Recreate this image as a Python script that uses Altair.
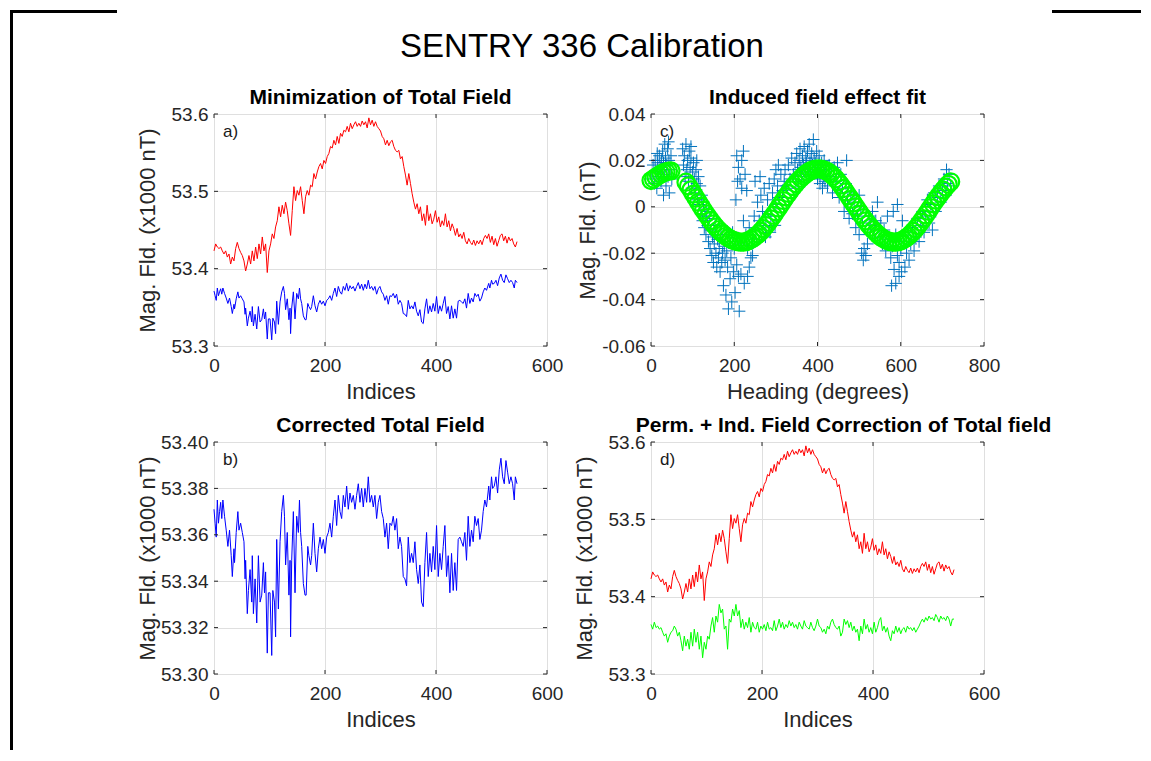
import altair as alt
import pandas as pd

FONT = "Liberation Sans"
TXT = "#262626"
GRID = "#dfdfdf"
W, H = 333, 232

# ---------------- data ----------------
# total field before correction (red), sample index step 3
RED_VALS = [
    53.423, 53.432, 53.428, 53.426, 53.428, 53.423, 53.419, 53.423, 53.415, 53.419,
    53.406, 53.415, 53.410, 53.426, 53.434, 53.426, 53.421, 53.417, 53.410, 53.397,
    53.406, 53.417, 53.406, 53.423, 53.410, 53.428, 53.413, 53.432, 53.419, 53.441,
    53.423, 53.432, 53.395, 53.423, 53.432, 53.445, 53.439, 53.454, 53.462, 53.480,
    53.467, 53.482, 53.471, 53.486, 53.475, 53.458, 53.443, 53.475, 53.506, 53.488,
    53.501, 53.495, 53.506, 53.488, 53.471, 53.493, 53.501, 53.495, 53.508, 53.506,
    53.523, 53.516, 53.525, 53.532, 53.536, 53.529, 53.540, 53.536, 53.545, 53.549,
    53.558, 53.556, 53.566, 53.560, 53.571, 53.562, 53.575, 53.571, 53.579, 53.577,
    53.584, 53.577, 53.588, 53.581, 53.586, 53.590, 53.584, 53.588, 53.584, 53.591,
    53.586, 53.590, 53.582, 53.595, 53.586, 53.592, 53.584, 53.590, 53.584, 53.581,
    53.578, 53.571, 53.568, 53.560, 53.566, 53.559, 53.564, 53.566, 53.558, 53.553,
    53.551, 53.553, 53.542, 53.545, 53.532, 53.521, 53.508, 53.523, 53.510, 53.497,
    53.486, 53.477, 53.484, 53.471, 53.480, 53.462, 53.471, 53.456, 53.482, 53.462,
    53.471, 53.458, 53.464, 53.475, 53.460, 53.467, 53.454, 53.462, 53.456, 53.471,
    53.454, 53.462, 53.449, 53.458, 53.452, 53.443, 53.452, 53.441, 53.445, 53.439,
    53.447, 53.436, 53.432, 53.439, 53.434, 53.431, 53.437, 53.430, 53.436, 53.432,
    53.437, 53.431, 53.439, 53.443, 53.439, 53.445, 53.434, 53.442, 53.431, 53.439,
    53.429, 53.436, 53.443, 53.445, 53.436, 53.442, 53.433, 53.441, 53.436, 53.439,
    53.432, 53.428, 53.435,
]
RED_IDX = list(range(0, 3 * len(RED_VALS), 3))

# minimised / corrected total field (blue)
BLUE_IDX = [0, 2, 4, 6, 8, 10, 12, 14, 16, 19, 22, 25, 28, 31, 33, 36, 37, 40, 43, 45,
            48, 51, 54, 56, 57, 60, 62, 65, 68, 69, 71, 74, 77, 80, 83, 86, 89, 91, 93, 96,
            98, 101, 104, 106, 109, 111, 113, 116, 119, 122, 125, 127, 129, 132, 135, 137,
            138, 140, 143, 146, 149, 152, 154, 156, 158, 161, 164, 166, 169, 171, 174, 176] \
    + list(range(179, 494, 3)) \
    + [495, 497, 500, 502, 505, 508, 511, 514, 517, 520, 523, 526, 529, 532, 535, 538, 541, 543, 546]
BLUE_VALS = [
    53.371, 53.365, 53.359, 53.375, 53.365, 53.370, 53.374, 53.367, 53.375, 53.368,
    53.362, 53.355, 53.362, 53.351, 53.342, 53.354, 53.348, 53.361, 53.370, 53.362,
    53.365, 53.361, 53.357, 53.341, 53.349, 53.326, 53.336, 53.345, 53.331, 53.351,
    53.326, 53.341, 53.322, 53.351, 53.331, 53.334, 53.348, 53.335, 53.344, 53.309,
    53.335, 53.335, 53.308, 53.336, 53.331, 53.316, 53.358, 53.328, 53.357, 53.370,
    53.377, 53.368, 53.347, 53.361, 53.334, 53.349, 53.316, 53.349, 53.370, 53.335,
    53.368, 53.361, 53.375, 53.361, 53.355, 53.339, 53.334, 53.334, 53.355, 53.351,
    53.347, 53.351, 53.365, 53.352, 53.344, 53.354, 53.359, 53.354, 53.358, 53.352,
    53.359, 53.361, 53.365, 53.359, 53.368, 53.375, 53.364, 53.377, 53.370, 53.367,
    53.377, 53.372, 53.381, 53.371, 53.378, 53.374, 53.377, 53.371, 53.377, 53.382,
    53.374, 53.380, 53.372, 53.380, 53.374, 53.385, 53.374, 53.377, 53.372, 53.377,
    53.367, 53.374, 53.377, 53.370, 53.367, 53.359, 53.365, 53.354, 53.365, 53.364,
    53.368, 53.362, 53.367, 53.354, 53.359, 53.355, 53.342, 53.341, 53.338, 53.359,
    53.348, 53.352, 53.348, 53.357, 53.345, 53.339, 53.347, 53.331, 53.329, 53.348,
    53.361, 53.342, 53.352, 53.344, 53.355, 53.345, 53.364, 53.342, 53.352, 53.345,
    53.355, 53.364, 53.342, 53.351, 53.335, 53.352, 53.336, 53.348, 53.336, 53.358,
    53.359, 53.357, 53.355, 53.361, 53.349, 53.368, 53.355, 53.362, 53.357, 53.368,
    53.364, 53.367, 53.358, 53.362, 53.370, 53.375, 53.372, 53.381, 53.375, 53.385,
    53.380, 53.381, 53.385, 53.378, 53.388, 53.393, 53.385, 53.382, 53.392, 53.387,
    53.382, 53.385, 53.382, 53.375, 53.385, 53.382,
]

# permanent + induced corrected field (green), sample index step 3
GREEN_VALS = [
    53.364, 53.358, 53.367, 53.360, 53.362, 53.358, 53.360, 53.354, 53.349, 53.352,
    53.341, 53.349, 53.354, 53.356, 53.362, 53.358, 53.349, 53.354, 53.343, 53.330,
    53.349, 53.336, 53.345, 53.332, 53.354, 53.336, 53.358, 53.341, 53.354, 53.332,
    53.349, 53.321, 53.341, 53.332, 53.349, 53.345, 53.362, 53.373, 53.354, 53.375,
    53.367, 53.390, 53.379, 53.384, 53.358, 53.362, 53.332, 53.371, 53.367, 53.384,
    53.375, 53.390, 53.375, 53.382, 53.360, 53.371, 53.358, 53.367, 53.360, 53.373,
    53.354, 53.367, 53.360, 53.358, 53.367, 53.354, 53.362, 53.358, 53.364, 53.356,
    53.367, 53.358, 53.360, 53.356, 53.369, 53.356, 53.362, 53.371, 53.360, 53.367,
    53.358, 53.364, 53.360, 53.369, 53.362, 53.367, 53.360, 53.364, 53.358, 53.367,
    53.362, 53.358, 53.369, 53.362, 53.360, 53.358, 53.367, 53.360, 53.356, 53.362,
    53.371, 53.362, 53.360, 53.354, 53.358, 53.352, 53.362, 53.358, 53.367, 53.371,
    53.364, 53.360, 53.358, 53.362, 53.349, 53.354, 53.371, 53.364, 53.369, 53.360,
    53.367, 53.356, 53.362, 53.354, 53.358, 53.343, 53.362, 53.352, 53.371, 53.358,
    53.364, 53.354, 53.360, 53.352, 53.367, 53.354, 53.360, 53.369, 53.373, 53.356,
    53.362, 53.354, 53.360, 53.349, 53.343, 53.356, 53.352, 53.362, 53.354, 53.360,
    53.352, 53.358, 53.360, 53.354, 53.362, 53.358, 53.360, 53.356, 53.360, 53.354,
    53.358, 53.362, 53.367, 53.371, 53.367, 53.373, 53.369, 53.375, 53.371, 53.373,
    53.369, 53.377, 53.373, 53.367, 53.375, 53.371, 53.373, 53.369, 53.375, 53.371,
    53.362, 53.371, 53.371,
]
GREEN_IDX = list(range(0, 3 * len(GREEN_VALS), 3))

# induced field residuals vs heading (blue crosses)
CROSSES = [
    (2, 0.012), (5, 0.018), (8, 0.010), (10, 0.020), (12, 0.015), (14, 0.008), (16, 0.019),
    (18, 0.013), (20, 0.022), (22, 0.017), (24, 0.011), (26, 0.016), (28, 0.024), (30, 0.019),
    (32, 0.014), (33, 0.027), (35, 0.021), (36, 0.009), (38, 0.018), (40, 0.025), (41, 0.013),
    (43, 0.020), (44, 0.006), (46, 0.016), (48, 0.022), (50, 0.012), (30, 0.005), (25, 0.020),
    (15, 0.023), (42, 0.028),
    (76, 0.025), (78, 0.018), (80, 0.022), (82, 0.013), (84, 0.027), (86, 0.016), (88, 0.020),
    (90, 0.011), (92, 0.024), (94, 0.017), (96, 0.021), (98, 0.008), (100, 0.015), (102, 0.019),
    (104, 0.012), (106, 0.006), (108, 0.016), (110, 0.010), (112, 0.003), (114, 0.013),
    (116, 0.001), (118, 0.009), (120, -0.003), (122, 0.005), (124, -0.006), (126, 0.002),
    (128, -0.009), (130, -0.004), (96, 0.026), (110, 0.020),
    (132, -0.012), (134, -0.002), (136, -0.008), (138, -0.015), (140, -0.005), (142, -0.018),
    (144, -0.010), (146, -0.021), (148, -0.013), (150, -0.024), (152, -0.016), (154, -0.008),
    (156, -0.020), (158, -0.026), (160, -0.014), (162, -0.022), (164, -0.018), (166, -0.028),
    (168, -0.012), (170, -0.024), (172, -0.020), (174, -0.034), (176, -0.017), (178, -0.023),
    (180, -0.038), (182, -0.019), (184, -0.026), (186, -0.044), (188, -0.015), (190, -0.031),
    (192, -0.022), (194, -0.041), (196, -0.011), (198, -0.028), (200, -0.018), (202, -0.037),
    (204, 0.003), (206, -0.025), (208, 0.011), (210, -0.030), (212, -0.045), (214, -0.016),
    (216, -0.029), (218, 0.008),
    (206, 0.022), (210, 0.017), (214, 0.012), (218, 0.020), (222, 0.024), (226, 0.014),
    (230, 0.007), (222, -0.006), (228, -0.012), (232, -0.018), (236, -0.009), (240, -0.022),
    (244, -0.014), (248, -0.004), (252, -0.010), (256, 0.002), (260, -0.006), (264, 0.005),
    (268, -0.002), (272, 0.008), (276, -0.008), (280, 0.003), (284, 0.010), (288, -0.004),
    (292, 0.006), (296, 0.012), (300, 0.001), (304, 0.009), (308, 0.004), (312, 0.014),
    (316, 0.007), (320, 0.011), (232, -0.030), (236, -0.026), (224, -0.033), (244, -0.021),
    (250, 0.011), (262, 0.013), (275, -0.013), (286, -0.011), (298, -0.008), (300, 0.016),
    (306, 0.018),
    (322, 0.016), (326, 0.009), (330, 0.018), (334, 0.012), (338, 0.021), (342, 0.014),
    (346, 0.019), (348, 0.008), (350, 0.023), (352, 0.016), (354, 0.011), (356, 0.020),
    (358, 0.025), (360, 0.017), (362, 0.013), (364, 0.022), (366, 0.018), (368, 0.026),
    (370, 0.015), (372, 0.021), (374, 0.019), (376, 0.024), (378, 0.016), (380, 0.027),
    (382, 0.020), (384, 0.014), (386, 0.023), (388, 0.018), (390, 0.029), (392, 0.021),
    (394, 0.015), (396, 0.019), (398, 0.024), (400, 0.012), (402, 0.017), (404, 0.022),
    (406, 0.010), (408, 0.015), (410, 0.019), (412, 0.008), (414, 0.013), (416, 0.020),
    (418, 0.011), (420, 0.016),
    (424, 0.009), (428, 0.018), (432, 0.013), (436, 0.006), (440, 0.017), (444, 0.011),
    (448, 0.019), (452, 0.004), (456, 0.014), (460, 0.008), (464, -0.002), (468, 0.010),
    (472, 0.003), (476, -0.005), (480, 0.006), (484, -0.003), (488, 0.002), (492, -0.009),
    (496, -0.004), (500, -0.012), (504, 0.000), (508, -0.007), (512, -0.018), (516, -0.021),
    (520, -0.016), (506, -0.020), (510, -0.023), (470, 0.020), (500, 0.005),
    (524, -0.004), (528, -0.008), (532, -0.002), (536, -0.010), (540, -0.006), (544, 0.002),
    (548, -0.013), (552, -0.007), (556, -0.016), (560, -0.010), (564, -0.019), (568, -0.004),
    (572, -0.014), (576, -0.022), (580, -0.017), (584, -0.027), (588, -0.012), (592, -0.021),
    (596, -0.030), (600, -0.018), (578, -0.034), (588, -0.033), (596, -0.024), (602, -0.028),
    (606, -0.015), (610, -0.026), (614, -0.020), (618, -0.011), (620, -0.023),
    (582, -0.002), (592, 0.001), (604, -0.006), (624, -0.016), (628, -0.009), (632, -0.019),
    (636, -0.013), (640, -0.005), (644, -0.015), (648, -0.008), (652, -0.002), (656, -0.011),
    (660, -0.004), (664, 0.003), (668, -0.007), (672, 0.001), (676, -0.010), (680, 0.006),
    (684, -0.002), (688, 0.004), (692, 0.009), (696, 0.002), (700, 0.007), (704, 0.012),
    (708, 0.005), (712, 0.010), (716, 0.014), (720, 0.009), (710, 0.016),
]

# induced field fit (green circles)
FIT_H = list(range(0, 49, 6)) + list(range(84, 721, 6))
FIT_V = [
    0.0113, 0.0120, 0.0128, 0.0135, 0.0142, 0.0147, 0.0151, 0.0154, 0.0155,
    0.0106, 0.0090, 0.0073, 0.0055, 0.0038, 0.0020, 0.0003, -0.0014, -0.0030, -0.0045,
    -0.0060, -0.0074, -0.0087, -0.0099, -0.0109, -0.0118, -0.0127, -0.0134, -0.0140, -0.0145,
    -0.0149, -0.0151, -0.0152, -0.0152, -0.0150, -0.0146, -0.0141, -0.0134, -0.0126, -0.0117,
    -0.0106, -0.0094, -0.0081, -0.0067, -0.0052, -0.0037, -0.0021, -0.0005, 0.0011, 0.0027,
    0.0043, 0.0058, 0.0073, 0.0087, 0.0100, 0.0112, 0.0123, 0.0133, 0.0142, 0.0150,
    0.0156, 0.0160, 0.0163, 0.0164, 0.0163, 0.0160, 0.0156, 0.0150, 0.0142, 0.0132,
    0.0121, 0.0108, 0.0094, 0.0079, 0.0064, 0.0048, 0.0032, 0.0016, 0.0000, -0.0016,
    -0.0032, -0.0047, -0.0061, -0.0075, -0.0088, -0.0100, -0.0111, -0.0121, -0.0130, -0.0137,
    -0.0143, -0.0147, -0.0150, -0.0152, -0.0152, -0.0150, -0.0147, -0.0142, -0.0135, -0.0127,
    -0.0117, -0.0106, -0.0094, -0.0081, -0.0066, -0.0051, -0.0035, -0.0019, -0.0003, 0.0013,
    0.0029, 0.0044, 0.0058, 0.0072, 0.0085, 0.0097, 0.0108,
]

IDX_TICKS = [0, 200, 400, 600]
HEAD_TICKS = [0, 200, 400, 600, 800]
Y_TICKS_A = [53.3, 53.4, 53.5, 53.6]
Y_TICKS_B = [53.3, 53.32, 53.34, 53.36, 53.38, 53.4]
Y_TICKS_C = [-0.06, -0.04, -0.02, 0.0, 0.02, 0.04]

SUPTITLE = "SENTRY 336 Calibration"
TITLES = ["Minimization of Total Field", "Induced field effect fit",
          "Corrected Total Field", "Perm. + Ind. Field Correction of Total field"]
LABELS = ["a)", "c)", "b)", "d)"]
XTITLES = ["Indices", "Heading (degrees)", "Indices", "Indices"]
YTITLES = ["Mag. Fld. (x1000 nT)", "Mag. Fld. (nT)", "Mag. Fld. (x1000 nT)", "Mag. Fld. (x1000 nT)"]


def df(xs, ys):
    return pd.DataFrame({"x": xs, "y": ys})


def text_layer(text, x, y, size, weight="normal", align="center", color="#000000"):
    return alt.Chart(pd.DataFrame({"t": [text]})).mark_text(
        align=align, baseline="middle", fontSize=size, font=FONT, fontWeight=weight, color=color
    ).encode(x=alt.value(x), y=alt.value(y), text="t:N")


def panel(layers, xdom, xticks, ydom, yticks, yfmt, title, xtitle, ytitle, label,
          title_dx=0, ytitle_x=-67, ylabel_expr=None, extra=()):
    xs = alt.Scale(domain=xdom, nice=False, zero=False)
    ys = alt.Scale(domain=ydom, nice=False, zero=False)
    xaxis = alt.Axis(values=xticks, title=xtitle, format="d", grid=True, gridColor=GRID,
                     tickSize=0, domain=False, labelPadding=10, titlePadding=6, labelFlush=False,
                     labelFontSize=19, titleFontSize=22, labelColor=TXT, titleColor=TXT,
                     titleFontWeight="normal", labelFont=FONT, titleFont=FONT)
    yargs = dict(values=yticks, title=ytitle, grid=True, gridColor=GRID, tickSize=0,
                 domain=False, labelPadding=6, labelFontSize=19, titleFontSize=22,
                 labelFlush=False, labelColor=TXT, titleColor=TXT, titleFontWeight="normal",
                 labelFont=FONT, titleFont=FONT, titleX=ytitle_x, titleY=H / 2,
                 titleBaseline="middle", titleAlign="center", titleAngle=270)
    if ylabel_expr:
        yargs["labelExpr"] = ylabel_expr
    else:
        yargs["format"] = yfmt
    yaxis = alt.Axis(**yargs)

    charts = []
    for i, chart_fn in enumerate(layers):
        c = chart_fn()
        if i == 0:
            c = c.encode(x=alt.X("x:Q", scale=xs, axis=xaxis), y=alt.Y("y:Q", scale=ys, axis=yaxis))
        else:
            c = c.encode(x=alt.X("x:Q", scale=xs), y=alt.Y("y:Q", scale=ys))
        charts.append(c)

    tx = pd.DataFrame({"x": xticks})
    ty = pd.DataFrame({"y": yticks})
    tick_style = dict(color=TXT, strokeWidth=1)
    charts += [
        alt.Chart(tx).mark_rule(**tick_style).encode(x=alt.X("x:Q", scale=xs), y=alt.value(H), y2=alt.value(H - 4)),
        alt.Chart(tx).mark_rule(**tick_style).encode(x=alt.X("x:Q", scale=xs), y=alt.value(0), y2=alt.value(4)),
        alt.Chart(ty).mark_rule(**tick_style).encode(y=alt.Y("y:Q", scale=ys), x=alt.value(0), x2=alt.value(4)),
        alt.Chart(ty).mark_rule(**tick_style).encode(y=alt.Y("y:Q", scale=ys), x=alt.value(W), x2=alt.value(W - 4)),
        text_layer(label, 9, 18, 17, align="left", color="#1a1a1a"),
        text_layer(title, W / 2 + title_dx, -16, 21, weight="bold"),
    ]
    charts += list(extra)
    return alt.layer(*charts).properties(width=W, height=H)


red_df = df(RED_IDX, RED_VALS)
blue_df = df(BLUE_IDX, BLUE_VALS)
green_df = df(GREEN_IDX, GREEN_VALS)
cross_df = df([c[0] for c in CROSSES], [c[1] for c in CROSSES])
fit_df = pd.DataFrame([(h, v) for h, v in zip(FIT_H, FIT_V)], columns=["x", "y"])

# figure-level decorations, placed in panel a's / c's pixel frame
frame_style = dict(color="#000000", strokeWidth=3)
a_extra = [
    text_layer(SUPTITLE, 368, -67, 33),
    alt.Chart(pd.DataFrame({"t": [0]})).mark_rule(**frame_style).encode(
        x=alt.value(-202.5), x2=alt.value(-202.5), y=alt.value(-104), y2=alt.value(636)),
    alt.Chart(pd.DataFrame({"t": [0]})).mark_rule(**frame_style).encode(
        x=alt.value(-204), x2=alt.value(-97), y=alt.value(-102.5), y2=alt.value(-102.5)),
]
c_extra = [
    alt.Chart(pd.DataFrame({"t": [0]})).mark_rule(**frame_style).encode(
        x=alt.value(401), x2=alt.value(490), y=alt.value(-102.5), y2=alt.value(-102.5)),
]

pa = panel(
    [lambda: alt.Chart(red_df).mark_line(color="#ff0000", strokeWidth=1),
     lambda: alt.Chart(blue_df).mark_line(color="#0000ff", strokeWidth=1)],
    [0, 600], IDX_TICKS, [53.3, 53.6], Y_TICKS_A, ".1f", TITLES[0], XTITLES[0], YTITLES[0], LABELS[0],
    extra=a_extra)

pb = panel(
    [lambda: alt.Chart(blue_df).mark_line(color="#0000ff", strokeWidth=1)],
    [0, 600], IDX_TICKS, [53.3, 53.4], Y_TICKS_B, ".2f", TITLES[2], XTITLES[2], YTITLES[2], LABELS[2])

pc = panel(
    [lambda: alt.Chart(cross_df).mark_point(shape="M-1,0L1,0M0,-1L0,1", filled=False, size=150,
                                             color="#0072bd", strokeWidth=1, opacity=1),
     lambda: alt.Chart(fit_df).mark_point(shape="circle", filled=False, size=289,
                                           color="#00ff00", strokeWidth=2.2, opacity=1)],
    [0, 800], HEAD_TICKS, [-0.06, 0.04], Y_TICKS_C, ".2f", TITLES[1], XTITLES[1], YTITLES[1], LABELS[1],
    ytitle_x=-64,
    ylabel_expr="datum.value == 0 ? '0' : (datum.value < 0 ? '-' + format(-datum.value, '.2f') : format(datum.value, '.2f'))",
    extra=c_extra)

pd_ = panel(
    [lambda: alt.Chart(red_df).mark_line(color="#ff0000", strokeWidth=1),
     lambda: alt.Chart(green_df).mark_line(color="#00ff00", strokeWidth=1)],
    [0, 600], IDX_TICKS, [53.3, 53.6], Y_TICKS_A, ".1f", TITLES[3], XTITLES[3], YTITLES[3], LABELS[3],
    title_dx=26)

chart = alt.concat(pa, pc, pb, pd_, columns=2, spacing={"row": 96, "column": 104},
                   bounds="flush").properties(
    padding={"left": 0, "top": 0, "right": 0, "bottom": 0},
    background="white",
).configure_view(stroke=TXT, strokeWidth=1).configure(font=FONT)

chart.save("out.html", embed_options={"renderer": "svg", "actions": False})
